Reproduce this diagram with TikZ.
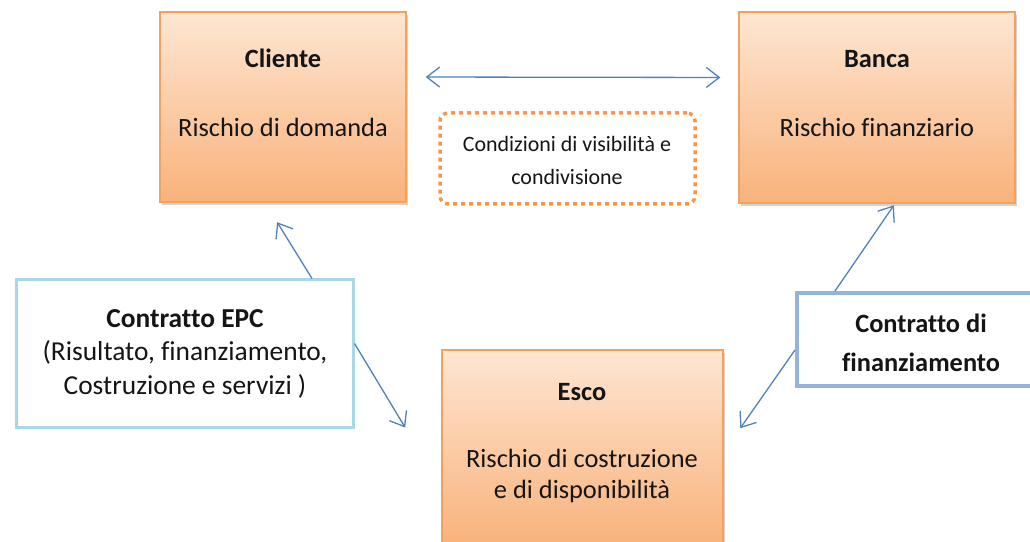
\documentclass[tikz,border=0pt]{standalone}
\usepackage{fontspec}
\setmainfont{Carlito}[Ligatures={NoCommon}]
\usetikzlibrary{arrows.meta,shadows,calc}
\definecolor{orangeB}{HTML}{F4A15D}
\definecolor{orangeT}{HTML}{FDE6D2}
\definecolor{orangeD}{HTML}{F9B27B}
\definecolor{dotO}{HTML}{F79646}
\definecolor{arrB}{HTML}{4F81BD}
\definecolor{epcB}{HTML}{A8D8E4}
\definecolor{finB}{HTML}{95B3D7}
\definecolor{ink}{HTML}{151515}
\begin{document}
\begin{tikzpicture}[x=1bp,y=-1bp,
  actor/.style={draw=orangeB, line width=1.3bp, top color=orangeT, bottom color=orangeD,
    inner sep=0pt, drop shadow={shadow xshift=1.5bp, shadow yshift=-3bp, opacity=0.35}},
  ttl/.style={anchor=base, font=\fontsize{26.5}{30}\selectfont\bfseries, text=ink},
  txt/.style={anchor=base, font=\fontsize{26.5}{30}\selectfont, text=ink},
  arr/.style={draw=arrB, line width=1.3bp, arrows={-Straight Barb[length=13bp,width=20bp]}},
  arrboth/.style={draw=arrB, line width=1.3bp, arrows={Straight Barb[length=13bp,width=20bp]-Straight Barb[length=13bp,width=20bp]}}]
\useasboundingbox (0,0) rectangle (1030,542);
\begin{scope}
\clip (0,0) rectangle (1030,542);
% boxes
\node[actor, minimum width=246bp, minimum height=190bp] (cliente) at (283,107) {};
\node[actor, minimum width=276bp, minimum height=191bp] (banca) at (877,107.5) {};
\node[actor, minimum width=281bp, minimum height=195bp] (esco) at (582.5,447.5) {};
\node[draw=dotO, line width=3.5bp, dash pattern=on 4bp off 4bp, rounded corners=8bp,
  minimum width=255bp, minimum height=91bp, inner sep=0pt] (cond) at (567.5,158.5) {};
\node[draw=epcB, line width=3bp, fill=white, minimum width=336bp, minimum height=147bp, inner sep=0pt] (epc) at (185,353.5) {};
\node[draw=finB, line width=4bp, fill=white, minimum width=250bp, minimum height=93bp, inner sep=0pt] (fin) at (922,339.5) {};
% texts
\node[ttl] (clienteT) at (283,68) {Cliente};
\node[txt] (clienteR) at (283,137) {Rischio di domanda};
\node[ttl] (bancaT) at (877,68) {Banca};
\node[txt] (bancaR) at (877,137) {Rischio finanziario};
\node[ttl] (escoT) at (582,400) {Esco};
\node[txt] (escoR1) at (582,467) {Rischio di costruzione};
\node[txt] (escoR2) at (582,498) {e di disponibilità};
\node[anchor=base, font=\fontsize{22}{25}\selectfont, text=ink] (cond1) at (567,152) {Condizioni di visibilità e};
\node[anchor=base, font=\fontsize{22}{25}\selectfont, text=ink] (cond2) at (567,185) {condivisione};
\node[anchor=base, font=\fontsize{27.5}{32}\selectfont\bfseries, text=ink] (epcT) at (185,328) {Contratto EPC};
\node[anchor=base, font=\fontsize{27.5}{32}\selectfont, text=ink] (epc1) at (185,361) {(Risultato, finanziamento,};
\node[anchor=base, font=\fontsize{27.5}{32}\selectfont, text=ink] (epc2) at (185,394) {Costruzione e servizi )};
\node[anchor=base, font=\fontsize{26.5}{30}\selectfont\bfseries, text=ink] (fin1) at (921,333) {Contratto di};
\node[anchor=base, font=\fontsize{26.5}{30}\selectfont\bfseries, text=ink] (fin2) at (921,372) {finanziamento};
% connectors
\draw[arrboth, shorten <=19bp, shorten >=18bp] ([yshift=30bp]cliente.east) -- ([yshift=30bp]banca.west);
\draw[arr, shorten >=23bp] ([xshift=127bp]epc.north) -- ([xshift=-18bp]cliente.south);
\draw[arr, shorten >=70bp] ([yshift=10bp]epc.east) -- ([yshift=-40bp]esco.west);
\draw[arr, shorten >=2bp] ([xshift=-87bp]fin.north) -- ([xshift=18bp]banca.south);
\draw[arr, shorten >=29bp] ([yshift=-10.5bp]fin.west) -- ([yshift=-4.5bp]esco.east);
\end{scope}
\end{tikzpicture}
\end{document}
